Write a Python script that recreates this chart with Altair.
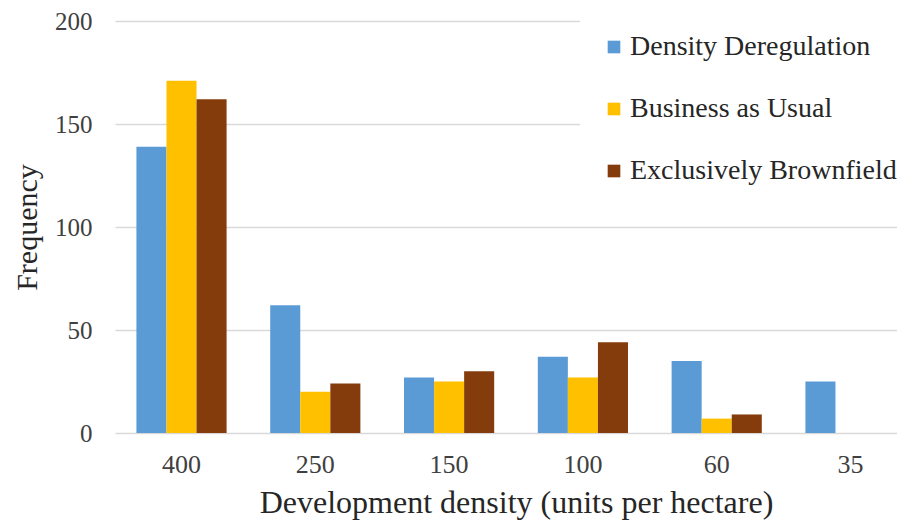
import altair as alt
import pandas as pd

categories = ["400", "250", "150", "100", "60", "35"]
series_names = ["Density Deregulation", "Business as Usual", "Exclusively Brownfield"]
density_deregulation = [139, 62, 27, 37, 35, 25]
business_as_usual = [171, 20, 25, 27, 7, 0]
exclusively_brownfield = [162, 24, 30, 44, 9, 0]
colors = ["#5B9BD5", "#FFC000", "#843C0C"]

rows = []
for name, vals in zip(series_names, [density_deregulation, business_as_usual, exclusively_brownfield]):
    for c, v in zip(categories, vals):
        rows.append({"density": c, "series": name, "freq": v})
df = pd.DataFrame(rows)

font = "Liberation Serif"
txt = "#404040"

chart = alt.Chart(df).mark_bar().encode(
    x=alt.X("density:N", sort=categories,
            scale=alt.Scale(range=[0, 802], paddingInner=0.326, paddingOuter=0.16),
            axis=alt.Axis(title="Development density (units per hectare)", labelAngle=0,
                          ticks=False, domain=False, grid=False,
                          labelFont=font, labelFontSize=26, labelColor=txt, labelPadding=18,
                          titleFont=font, titleFontSize=32, titleFontWeight="normal",
                          titleColor="#262626", titlePadding=10,
                          titleX=401, titleAlign="center", titleAnchor="start")),
    xOffset=alt.XOffset("series:N", sort=series_names),
    y=alt.Y("freq:Q", scale=alt.Scale(domain=[0, 200]),
            axis=alt.Axis(title="Frequency", values=[0, 50, 100, 150, 200],
                          ticks=False, domain=False, gridColor="#d9d9d9", gridWidth=1.5,
                          labelFont=font, labelFontSize=25, labelColor=txt, labelPadding=23,
                          titleFont=font, titleFontSize=30, titleFontWeight="normal",
                          titleColor="#262626", titlePadding=12)),
    color=alt.Color("series:N", sort=series_names,
                    scale=alt.Scale(domain=series_names, range=colors),
                    legend=alt.Legend(title=None, orient="none", legendX=465, legendY=-8,
                                      fillColor="white", padding=20,
                                      symbolType="square", symbolSize=160, symbolStrokeWidth=0,
                                      labelFont=font, labelFontSize=28, labelColor="#262626",
                                      labelOffset=2, rowPadding=34, labelLimit=500)),
).properties(
    width=782, height=412,
    autosize=alt.AutoSizeParams(type="none"),
    padding={"left": 107, "top": 13, "right": 0, "bottom": 89},
).configure(background="white").configure_view(stroke=None)

chart.save("out.html", embed_options={"renderer": "svg", "actions": False})
